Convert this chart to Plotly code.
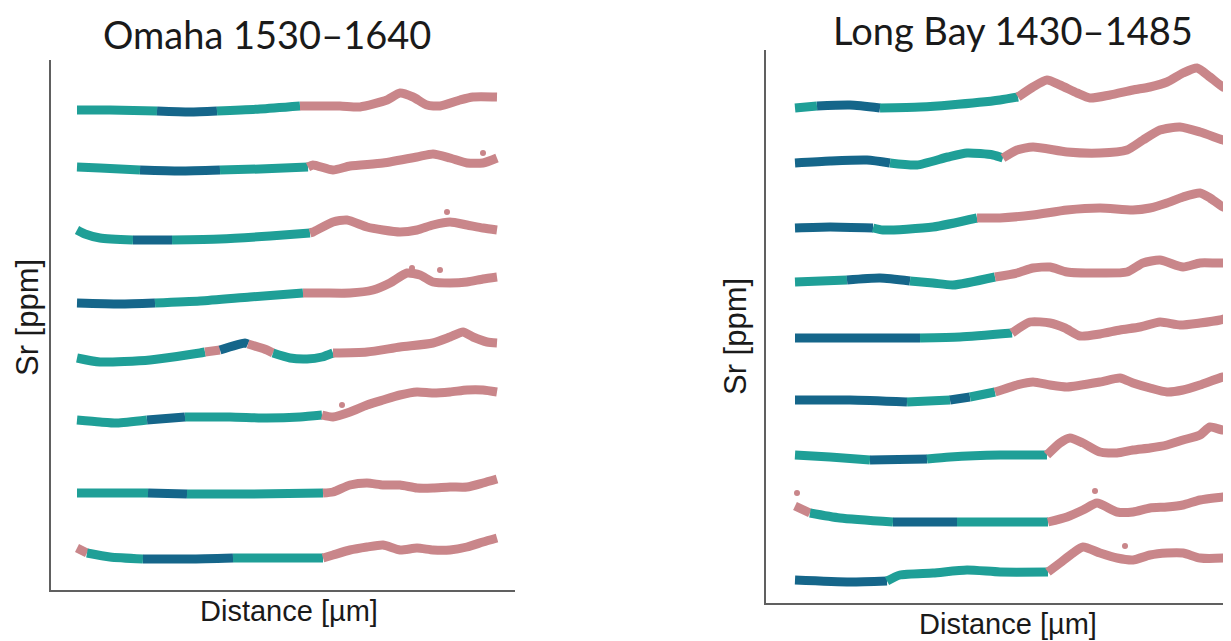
import plotly.graph_objects as go

# ---------------- data (distance in µm, Sr offset in ppm) ----------------
# class per point: colour of the segment that starts at that point
# t = teal, b = dark blue, p = pink
OMAHA_X = [
    [0, 33, 80, 113, 140, 183, 223, 263, 283, 310, 323, 336, 350, 363, 383, 396, 420],
    [0, 23, 63, 103, 143, 183, 231, 236, 256, 273, 306, 340, 356, 373, 390, 406, 420],
    [0, 8, 23, 56, 95, 143, 193, 233, 236, 256, 270, 290, 306, 323, 340, 356, 373, 390, 406, 420],
    [0, 43, 78, 123, 173, 226, 246, 273, 296, 313, 330, 343, 356, 373, 390, 406, 420],
    [0, 23, 73, 123, 128, 143, 168, 171, 190, 196, 213, 230, 245, 256, 290, 323, 356, 373, 386, 396, 410, 420],
    [0, 23, 40, 70, 108, 153, 190, 223, 245, 256, 273, 290, 306, 323, 340, 356, 373, 390, 406, 420],
    [0, 71, 110, 173, 246, 256, 273, 290, 306, 323, 340, 356, 373, 390, 406, 420],
    [0, 10, 33, 66, 113, 156, 203, 246, 256, 273, 290, 306, 323, 340, 356, 373, 390, 406, 420],
]
OMAHA_Y = [
    [480, 480, 479, 478, 479, 481, 484, 484, 483, 490, 497, 493, 485, 484, 490, 493, 493],
    [423, 422, 420, 419, 420, 421, 423, 425, 420, 424, 427, 433, 436, 432, 427, 427, 432],
    [360, 356, 352, 350, 350, 351, 354, 357, 358, 368, 370, 363, 360, 358, 360, 365, 368, 365, 362, 360],
    [287, 286, 287, 289, 293, 297, 297, 297, 300, 307, 317, 315, 308, 307, 308, 311, 313],
    [232, 228, 230, 237, 238, 240, 247, 246, 240, 237, 232, 231, 233, 237, 238, 243, 247, 253, 258, 253, 248, 247],
    [170, 168, 167, 170, 173, 173, 172, 173, 175, 173, 178, 185, 190, 195, 198, 197, 198, 200, 200, 198],
    [97, 97, 96, 96, 97, 98, 105, 107, 105, 105, 102, 102, 103, 103, 107, 111],
    [42, 37, 33, 31, 31, 32, 32, 32, 35, 40, 43, 45, 40, 42, 40, 40, 43, 48, 52],
]
OMAHA_C = [
    "ttbbttpppppppppp",
    "ttbbttppppppppppp",
    "tttbtttppppppppppppp",
    "bbtttppppppppppppp",
    "ttttpbbppttttpppppppppp",
    "tttbttttpppppppppppp",
    "tbttpppppppppppppp",
    "pttbbttpppppppppppp",
]
# stray single measurements (pink)
OMAHA_OUT_X = [406, 370, 335, 363, 265]
OMAHA_OUT_Y = [437, 378, 322, 320, 185]

LONGBAY_X = [
    [0, 22, 55, 85, 125, 155, 205, 223, 238, 252, 265, 282, 295, 315, 338, 355, 372, 388, 402, 415, 428, 445],
    [0, 35, 72, 95, 122, 153, 172, 198, 208, 222, 238, 272, 305, 332, 348, 365, 385, 405, 428, 445],
    [0, 35, 78, 88, 138, 182, 205, 238, 272, 305, 338, 355, 372, 388, 405, 415, 428, 445],
    [0, 52, 85, 115, 138, 158, 200, 222, 238, 255, 272, 305, 332, 348, 365, 388, 405, 428, 445],
    [0, 65, 125, 165, 217, 235, 255, 270, 285, 305, 325, 345, 365, 385, 405, 425, 445],
    [0, 55, 112, 155, 175, 200, 222, 238, 255, 272, 305, 325, 338, 355, 372, 388, 405, 428, 445],
    [0, 35, 75, 132, 155, 205, 252, 265, 275, 288, 305, 322, 338, 355, 372, 388, 405, 415, 428, 445],
    [0, 15, 45, 98, 162, 205, 253, 272, 288, 302, 322, 338, 355, 372, 388, 405, 428, 445],
    [0, 55, 92, 105, 138, 172, 205, 253, 265, 278, 288, 305, 322, 338, 355, 372, 388, 405, 428, 445],
]
LONGBAY_Y = [
    [495, 497, 498, 495, 496, 498, 503, 506, 516, 523, 518, 510, 505, 508, 513, 516, 521, 530, 535, 526, 516, 511],
    [440, 442, 443, 440, 438, 446, 450, 448, 445, 453, 456, 451, 450, 453, 463, 473, 476, 471, 463, 458],
    [375, 376, 375, 373, 376, 385, 385, 388, 393, 395, 393, 395, 400, 406, 410, 405, 396, 391],
    [321, 323, 325, 322, 320, 318, 326, 330, 335, 336, 331, 330, 331, 340, 343, 336, 340, 340, 343],
    [265, 265, 265, 266, 270, 281, 280, 275, 267, 269, 273, 276, 281, 278, 280, 283, 289],
    [203, 203, 201, 203, 206, 211, 218, 221, 218, 216, 221, 225, 220, 215, 211, 213, 218, 226, 228],
    [148, 146, 143, 144, 146, 148, 148, 160, 165, 160, 151, 150, 153, 155, 158, 163, 168, 176, 173, 175],
    [97, 90, 85, 81, 81, 81, 81, 86, 93, 100, 91, 91, 95, 96, 98, 103, 106, 108],
    [23, 21, 22, 28, 30, 33, 31, 31, 40, 50, 56, 50, 45, 43, 48, 50, 50, 45, 45, 47],
]
LONGBAY_C = [
    "tbbttttpppppppppppppp",
    "bbbtttttpppppppppppp",
    "bbtttppppppppppppp",
    "tbbtttppppppppppppp",
    "bbttpppppppppppppp",
    "bbtbtpppppppppppppp",
    "ttbtttppppppppppppppp",
    "pttbttppppppppppppp",
    "bbtttttppppppppppppp",
]
LONGBAY_OUT_X = [2, 300, 330]
LONGBAY_OUT_Y = [110, 112, 57]

COLORS = {"t": "#1f9f97", "b": "#15668a", "p": "#c9868a"}

TITLES = ["Omaha 1530\u20131640", "Long Bay 1430\u20131485"]
X_LABEL = "Distance [\u00b5m]"
Y_LABEL = "Sr [ppm]"

# the page body has an 8 px default margin; the figure is sized / placed to compensate
OFF = 8
W, H = 1231 - OFF, 641 - OFF

fig = go.Figure()


def add_profiles(xs, ys, cs, ox, oy, xa, ya):
    for x, y, c in zip(xs, ys, cs):
        n = len(x)
        i = 0
        while i < n - 1:
            cls = c[i] if i < len(c) else c[-1]
            j = i
            while j < n - 1 and (c[j] if j < len(c) else c[-1]) == cls:
                j += 1
            fig.add_trace(go.Scatter(
                x=x[i:j + 1], y=y[i:j + 1], mode="lines",
                line=dict(color=COLORS[cls], width=9, shape="spline", smoothing=0.6),
                xaxis=xa, yaxis=ya, showlegend=False, hoverinfo="skip"))
            i = j
    fig.add_trace(go.Scatter(x=ox, y=oy, mode="markers",
                             marker=dict(color=COLORS["p"], size=6),
                             xaxis=xa, yaxis=ya, showlegend=False, hoverinfo="skip"))


add_profiles(OMAHA_X, OMAHA_Y, OMAHA_C, OMAHA_OUT_X, OMAHA_OUT_Y, "x", "y")
add_profiles(LONGBAY_X, LONGBAY_Y, LONGBAY_C, LONGBAY_OUT_X, LONGBAY_OUT_Y, "x2", "y2")

# panel geometry (pixels in the final screenshot)
L = dict(x0=51, x1=515, y0=60, y1=590)
R = dict(x0=766, x1=1231, y0=50, y1=603)


def fx(px):
    return (px - OFF) / W


def fy(py):
    return 1 - (py - OFF) / H


axis_common = dict(showline=True, linecolor="#606060", linewidth=2, showticklabels=False,
                   ticks="", showgrid=False, zeroline=False, mirror=False)

fig.update_layout(
    width=W, height=H, margin=dict(l=0, r=0, t=0, b=0),
    paper_bgcolor="white", plot_bgcolor="white",
    xaxis=dict(domain=[fx(L["x0"]), fx(L["x1"])], range=[-26, 438], anchor="y", **axis_common),
    yaxis=dict(domain=[fy(L["y1"]), fy(L["y0"])], range=[0, 530], anchor="x", **axis_common),
    xaxis2=dict(domain=[fx(R["x0"]), 1.0], range=[-29, 436], anchor="y2", **axis_common),
    yaxis2=dict(domain=[fy(R["y1"]), fy(R["y0"])], range=[0, 553], anchor="x2", **axis_common),
)


def ann(text, xpx, ypx, size, family, angle=0):
    fig.add_annotation(text=text, xref="paper", yref="paper", x=fx(xpx), y=fy(ypx),
                       xanchor="center", yanchor="middle", showarrow=False, textangle=angle,
                       font=dict(size=size, family=family, color="#1a1a1a"))


ann(TITLES[0], 267, 34, 38, "Lato")
ann(TITLES[1], 1013, 30, 38, "Lato")
ann(X_LABEL, 289, 611, 29, "Liberation Sans")
ann(X_LABEL, 1008, 624, 29, "Liberation Sans")
ann(Y_LABEL, 27, 318, 31, "Liberation Sans", -90)
ann(Y_LABEL, 735, 337, 31, "Liberation Sans", -90)

fig.write_html("out.html")
